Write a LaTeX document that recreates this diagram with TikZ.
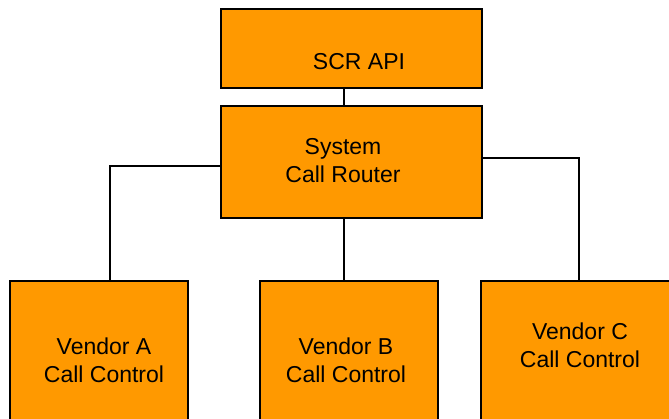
\documentclass[tikz,border=0pt]{standalone}
\usepackage{fontspec}
\setmainfont{Liberation Sans}
\definecolor{boxorange}{HTML}{FF9900}
\tikzset{
  block/.style={draw=black, line width=1.6pt, fill=boxorange, inner sep=0pt},
  lbl/.style={align=center, inner sep=0pt, font=\fontsize{23}{28}\selectfont},
  wire/.style={line width=1.6pt}
}
\begin{document}
\begin{tikzpicture}[x=1pt,y=-1pt]
\useasboundingbox (0,0) rectangle (669,418);
\clip (0,0) rectangle (669,418);

% the upper blocks
\node[block, minimum width=261pt, minimum height=79pt] (api) at (351.5,48.5) {};
\node[block, minimum width=261pt, minimum height=112pt] (router) at (351.5,162) {};

% the vendor blocks (cut off at the bottom)
\node[block, minimum width=178pt, minimum height=160pt] (venA) at (99,361) {};
\node[block, minimum width=178pt, minimum height=160pt] (venB) at (349,361) {};
\node[block, minimum width=200pt, minimum height=160pt] (venC) at (581,361) {};

% the wires
\draw[wire] ([xshift=-7.5pt]api.south) -- ([xshift=-7.5pt]router.north);
\draw[wire] ([yshift=-4pt]router.west) -| ([xshift=11pt]venA.north);
\draw[wire] ([xshift=-7.5pt]router.south) -- ([xshift=-7.5pt]router.south |- venB.north);
\draw[wire] ([yshift=4pt]router.east) -| ([xshift=-2pt]venC.north);

% the labels
\node[lbl] (apitext) at (359,61.5) {SCR API};
\node[lbl] (routertext) at (343,160.5) {System\\Call Router};
\node[lbl] (venAtext) at (104,360) {Vendor A\\Call Control};
\node[lbl] (venBtext) at (346,360) {Vendor B\\Call Control};
\node[lbl] (venCtext) at (580,345.5) {Vendor C\\Call Control};
\end{tikzpicture}
\end{document}
